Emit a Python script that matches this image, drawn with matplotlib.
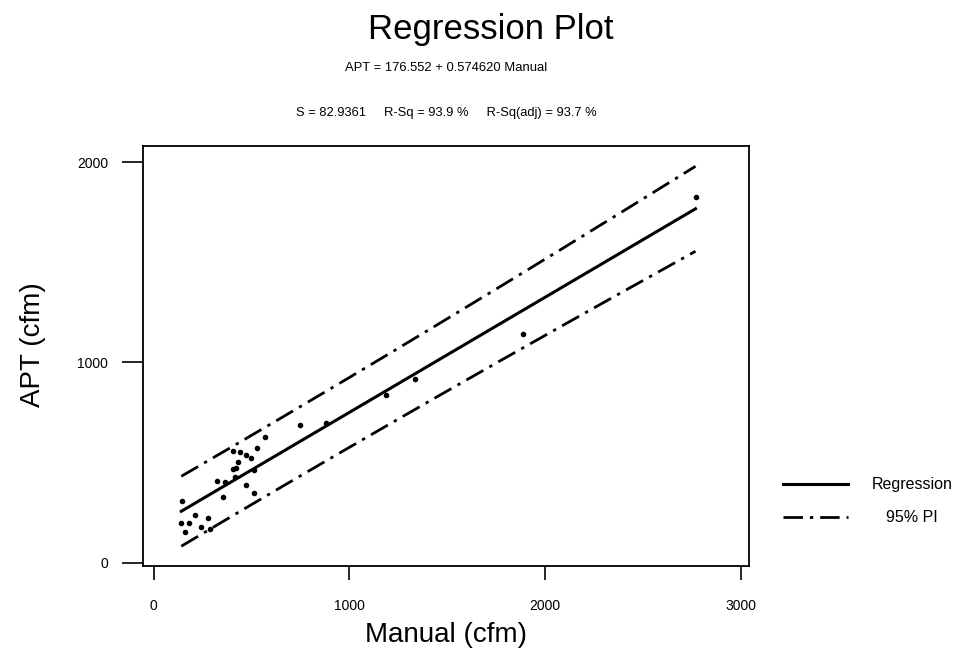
import numpy as np
import matplotlib.pyplot as plt
from matplotlib.lines import Line2D

# Manual vs APT airflow readings (cfm)
manual = [746, 570, 530, 405, 439, 473, 499, 431, 422, 405, 511, 323, 363, 414, 473,
          354, 511, 147, 209, 141, 180, 277, 244, 286, 158, 882, 1188, 1333, 1886, 2768]
apt = [688, 627, 572, 560, 555, 539, 522, 505, 472, 467, 464, 410, 405, 430, 389,
       331, 348, 311, 239, 201, 201, 223, 181, 170, 156, 700, 838, 918, 1142, 1827]

# fitted model and summary stats
intercept = 176.552
slope = 0.574620
s_err = 82.9361
r_sq = 93.9
r_sq_adj = 93.7
t_crit = 2.048  # t(0.975, n-2)

x = np.array(manual, dtype=float)
y = np.array(apt, dtype=float)
n = len(x)

xs = np.linspace(x.min(), x.max(), 200)
fit = intercept + slope * xs
sxx = np.sum((x - x.mean()) ** 2)
half = t_crit * s_err * np.sqrt(1 + 1 / n + (xs - x.mean()) ** 2 / sxx)

plt.rcParams['font.family'] = ['Liberation Sans', 'DejaVu Sans']

fig = plt.figure(figsize=(9.58, 6.58), dpi=100)
ax = fig.add_axes([0.149, 0.140, 0.633, 0.638])

pi_style = (0, (7, 2.5, 1.2, 2.5))
ax.plot(x, y, 'o', color='black', markersize=3.0)
ax.plot(xs, fit, color='black', linewidth=2.2)
ax.plot(xs, fit + half, color='black', linewidth=2, linestyle=pi_style)
ax.plot(xs, fit - half, color='black', linewidth=2, linestyle=pi_style)

ax.set_xlim(-56, 3042)
ax.set_ylim(-15, 2080)
ax.set_xticks([0, 1000, 2000, 3000])
ax.set_yticks([0, 1000, 2000])
ax.tick_params(axis='both', direction='out', labelsize=10, width=1.2, color='black')
ax.tick_params(axis='y', length=15, pad=10)
ax.tick_params(axis='x', length=10, pad=14)
for sp in ax.spines.values():
    sp.set_linewidth(1.3)

ax.set_xlabel('Manual (cfm)', fontsize=20)
ax.set_ylabel('APT (cfm)', fontsize=20)
ax.xaxis.set_label_coords(0.50, -0.134)
ax.yaxis.set_label_coords(-0.160, 0.526)

# title block
fig.text(0.512, 0.955, 'Regression Plot', ha='center', va='center', fontsize=25)
fig.text(0.466, 0.897, 'APT = 176.552 + 0.574620 Manual', ha='center', va='center', fontsize=9.4)
fig.text(0.466, 0.828,
         f'S = {s_err}     R-Sq = {r_sq} %     R-Sq(adj) = {r_sq_adj} %',
         ha='center', va='center', fontsize=9.3)

# key drawn at the right of the plot
key = [('Regression', '-', 2.2), ('95% PI', pi_style, 2)]
for i, (lab, ls, lw) in enumerate(key):
    yk = 0.264 - i * 0.050
    fig.add_artist(Line2D([0.817, 0.885], [yk, yk], color='black',
                          linestyle=ls, linewidth=lw, transform=fig.transFigure))
    fig.text(0.952, yk, lab, ha='center', va='center', fontsize=11.5)

fig.savefig('out.png', dpi=100)
